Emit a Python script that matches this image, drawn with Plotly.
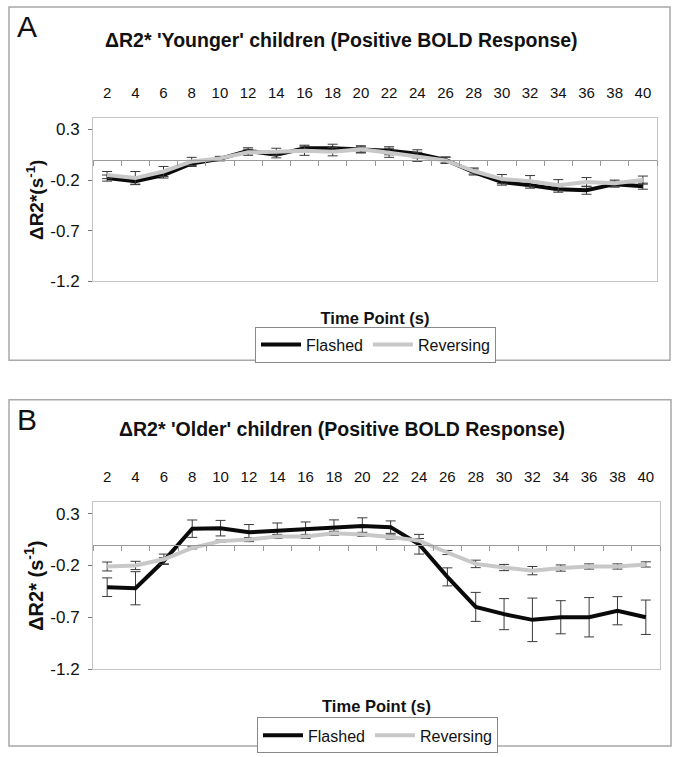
import plotly.graph_objects as go

W, H = 673, 757
FONT = "Liberation Sans, Arial, sans-serif"

time_points = [2, 4, 6, 8, 10, 12, 14, 16, 18, 20, 22, 24, 26, 28, 30, 32, 34, 36, 38, 40]
tick_labels = [str(t) for t in time_points]
boundaries = [1, 3, 5, 7, 9, 11, 13, 15, 17, 19, 21, 23, 25, 27, 29, 31, 33, 35, 37, 39, 41]

# Panel A: 'Younger' children
a_flashed = [-0.18, -0.21, -0.15, -0.035, 0.01, 0.09, 0.05, 0.115, 0.115, 0.10, 0.09, 0.06,
             0.0, -0.12, -0.22, -0.25, -0.29, -0.30, -0.24, -0.26]
a_flashed_err = [0.03, 0.03, 0.03, 0.03, 0.02, 0.03, 0.03, 0.03, 0.04, 0.03, 0.04, 0.04,
                 0.03, 0.03, 0.03, 0.03, 0.03, 0.04, 0.03, 0.03]
a_reversing = [-0.15, -0.18, -0.115, -0.015, 0.015, 0.075, 0.08, 0.09, 0.08, 0.105, 0.07, 0.03,
               -0.005, -0.11, -0.19, -0.21, -0.25, -0.22, -0.23, -0.20]
a_reversing_err = [0.035, 0.065, 0.05, 0.04, 0.02, 0.03, 0.035, 0.045, 0.04, 0.035, 0.045, 0.045,
                   0.03, 0.03, 0.045, 0.055, 0.055, 0.045, 0.03, 0.04]

# Panel B: 'Older' children
b_flashed = [-0.41, -0.42, -0.155, 0.155, 0.16, 0.12, 0.135, 0.15, 0.17, 0.18, 0.17, 0.005,
             -0.31, -0.60, -0.67, -0.725, -0.70, -0.70, -0.637, -0.70]
b_flashed_err = [0.09, 0.16, 0.03, 0.084, 0.075, 0.075, 0.075, 0.07, 0.07, 0.08, 0.06, 0.095,
                 0.087, 0.14, 0.15, 0.21, 0.16, 0.19, 0.136, 0.166]
b_reversing = [-0.21, -0.20, -0.14, -0.03, 0.035, 0.05, 0.08, 0.08, 0.11, 0.10, 0.075, 0.04,
               -0.075, -0.185, -0.22, -0.25, -0.225, -0.21, -0.21, -0.19]
b_reversing_err = [0.043, 0.04, 0.05, 0.01, 0.01, 0.02, 0.02, 0.02, 0.02, 0.02, 0.02, 0.02,
                   0.02, 0.036, 0.03, 0.04, 0.03, 0.025, 0.025, 0.025]

y_ticks = [0.3, -0.2, -0.7, -1.2]
Y_RANGE = [-1.2, 0.41]
X_RANGE = [1, 41]

BLACK = "#0a0a0a"
GRAY = "#c8c8c8"
ERR = "#3a3a3a"


def px(x):
    return x / W


def py(y):
    return 1 - y / H


panels = [
    dict(letter="A", title="<b>ΔR2* 'Younger' children (Positive BOLD Response)</b>",
         ytitle="<b>ΔR2*(s<sup>-1</sup>)</b>", ysize=19,
         flashed=a_flashed, flashed_err=a_flashed_err,
         reversing=a_reversing, reversing_err=a_reversing_err,
         plot=(93, 657, 120, 285), frame=(9, 670, 7, 365), title_xy=(341, 41),
         letter_xy=(15, 8), legend_xy=(255, 331), legend="legend"),
    dict(letter="B", title="<b>ΔR2* 'Older' children (Positive BOLD Response)</b>",
         ytitle="<b>ΔR2* (s<sup>-1</sup>)</b>", ysize=20,
         flashed=b_flashed, flashed_err=b_flashed_err,
         reversing=b_reversing, reversing_err=b_reversing_err,
         plot=(93, 660, 509, 678), frame=(9, 671, 405, 756), title_xy=(342, 435),
         letter_xy=(15, 406), legend_xy=(257, 727), legend="legend2"),
]

fig = go.Figure()
layout = dict(width=W, height=H, margin=dict(l=0, r=0, t=0, b=0),
              paper_bgcolor="white", plot_bgcolor="white",
              font=dict(family=FONT, color="#111"), shapes=[], annotations=[])

for i, p in enumerate(panels):
    k = i * 3
    xa_main = "xaxis" + ("" if k == 0 else str(k + 1))
    xa_top = "xaxis" + str(k + 2)
    xa_zero = "xaxis" + str(k + 3)
    x_main = "x" + ("" if k == 0 else str(k + 1))
    x_top = "x" + str(k + 2)
    x_zero = "x" + str(k + 3)
    ya = "yaxis" + ("" if i == 0 else str(i + 1))
    y_ref = "y" + ("" if i == 0 else str(i + 1))
    x0, x1, y0, y1 = p["plot"]
    xdom = [px(x0), px(x1)]
    ydom = [py(y1), py(y0)]
    zero_pos = ydom[0] + (0 - Y_RANGE[0]) / (Y_RANGE[1] - Y_RANGE[0]) * (ydom[1] - ydom[0])

    # helper traces so the overlay axes (top labels, zero line with ticks) are drawn
    fig.add_trace(go.Scatter(x=[None], y=[None], xaxis=x_top, yaxis=y_ref,
                             showlegend=False, hoverinfo="skip"))
    fig.add_trace(go.Scatter(x=[None], y=[None], xaxis=x_zero, yaxis=y_ref,
                             showlegend=False, hoverinfo="skip"))

    fig.add_trace(go.Scatter(
        x=time_points, y=p["flashed"], mode="lines", name="Flashed",
        line=dict(color=BLACK, width=4),
        error_y=dict(type="data", array=p["flashed_err"], color=ERR, thickness=1, width=5),
        xaxis=x_main, yaxis=y_ref, legend=p["legend"]))
    fig.add_trace(go.Scatter(
        x=time_points, y=p["reversing"], mode="lines", name="Reversing",
        line=dict(color=GRAY, width=4),
        error_y=dict(type="data", array=p["reversing_err"], color=ERR, thickness=1, width=5),
        xaxis=x_main, yaxis=y_ref, legend=p["legend"]))

    layout[xa_main] = dict(domain=xdom, range=X_RANGE, anchor=y_ref, side="bottom",
                           showticklabels=False, ticks="", showgrid=False, zeroline=False,
                           showline=True, mirror=True, linecolor="#c4c4c4", linewidth=1,
                           title=dict(text="<b>Time Point (s)</b>", standoff=31,
                                      font=dict(size=16.5, family=FONT, color="#111")))
    layout[xa_top] = dict(overlaying=x_main, range=X_RANGE, anchor=y_ref, side="top",
                          tickvals=time_points, ticktext=tick_labels, ticks="",
                          showgrid=False, zeroline=False, showline=False,
                          ticklabelstandoff=16,
                          tickfont=dict(size=15, family=FONT, color="#111"))
    layout[xa_zero] = dict(overlaying=x_main, range=X_RANGE, anchor="free", position=zero_pos,
                           side="bottom", tickvals=boundaries, ticks="outside", ticklen=5,
                           tickcolor="#9a9a9a", showticklabels=False, showgrid=False,
                           zeroline=False, showline=True, linecolor="#9a9a9a", linewidth=1)
    layout[ya] = dict(domain=ydom, range=Y_RANGE, anchor=x_main, tickvals=y_ticks,
                      ticktext=[f"{v:.1f}" for v in y_ticks], ticks="outside", ticklen=4,
                      tickcolor="#777", showgrid=False, zeroline=False,
                      showline=True, mirror=True, linecolor="#c4c4c4", linewidth=1,
                      ticklabelstandoff=5,
                      tickfont=dict(size=17, family=FONT, color="#111"),
                      title=dict(text=p["ytitle"], standoff=1,
                                 font=dict(size=p["ysize"], family=FONT, color="#111")))
    lx, ly = p["legend_xy"]
    layout[p["legend"]] = dict(orientation="h", x=px(lx), y=py(ly), xanchor="left",
                               yanchor="top", bgcolor="white", bordercolor="#888",
                               borderwidth=1, itemwidth=40,
                               font=dict(size=16, family=FONT, color="#111"),
                               tracegroupgap=0)

    fx0, fx1, fy0, fy1 = p["frame"]
    layout["shapes"].append(dict(type="rect", xref="paper", yref="paper",
                                 x0=px(fx0), x1=px(fx1), y0=py(fy1), y1=py(fy0),
                                 line=dict(color="#a8a8a8", width=1.5)))
    tx, ty = p["title_xy"]
    layout["annotations"].append(dict(text=p["title"], xref="paper", yref="paper",
                                      x=px(tx), y=py(ty), xanchor="center", yanchor="middle",
                                      showarrow=False, font=dict(size=19.5, family=FONT, color="#111")))
    lxl, lyl = p["letter_xy"]
    layout["annotations"].append(dict(text=p["letter"], xref="paper", yref="paper",
                                      x=px(lxl), y=py(lyl), xanchor="left", yanchor="top",
                                      showarrow=False, font=dict(size=30, family=FONT, color="#111")))

fig.update_layout(**layout)
fig.write_html("out.html", config={"displayModeBar": False},
               post_script="document.body.style.margin='0px';document.body.style.overflow='hidden';")
